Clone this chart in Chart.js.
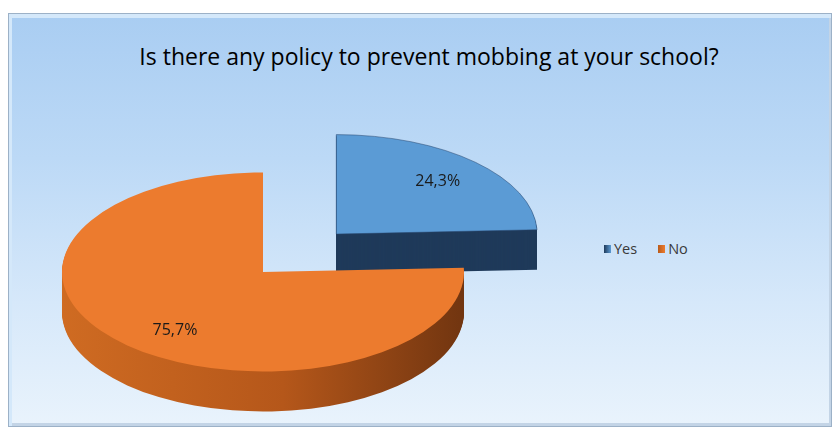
<!DOCTYPE html>
<html>
<head>
<meta charset="utf-8">
<script src="https://cdn.jsdelivr.net/npm/chart.js@4.4.1/dist/chart.umd.min.js"></script>
<style>
body { margin: 0; background: #fff; width: 834px; height: 432px; overflow: hidden; position: relative; font-family: 'Open Sans', sans-serif; }
#frame { position: absolute; left: 8px; top: 13px; width: 822px; height: 412px; border: 1px solid #9cb1c7;
  background: linear-gradient(#a9cdf2, #bcd9f6 35%, #d6e8fa 70%, #e9f3fc);
  box-shadow: inset 3px 4px 0 #d4e8fa, inset -2px -3px 0 #c3d4e6; }
#title { position: absolute; left: 12px; width: 834px; top: 40px; text-align: center; font-size: 23px; color: #000; }
#legend { position: absolute; left: 604px; top: 239px; font-size: 14.5px; color: #3a3a3a; display: flex; }
#legend span.item { display: flex; align-items: center; margin-right: 21px; }
#legend span.box { width: 7px; height: 8px; margin-right: 3px; display: inline-block; }
canvas { position: absolute; left: 0; top: 0; }
</style>
</head>
<body>
<div id="frame"></div>
<div id="title">Is there any policy to prevent mobbing at your school?</div>
<div id="legend"></div>
<canvas id="policy_pie" width="834" height="432"></canvas>
<script>
// data
const labels = ['Yes', 'No'];
const values = [24.3, 75.7];
const topColors = ['#5b9bd5', '#ec7b2e'];
const sideColors = ['#1f3a5a', '#b95b1b'];

const tilt = 0.495;  // ry / rx of the flattened pie
const depth = 40;    // thickness of the pie in px

function pct(v) {
    return v.toFixed(1).replace('.', ',') + '%';
}

const pie3d = {
    id: 'pie3d',
    beforeDatasetsDraw(chart) {
        const ctx = chart.ctx;
        const arcs = chart.getDatasetMeta(0).data;
        const shapes = arcs.map((arc, i) => {
            const p = arc.getProps(['x', 'y', 'startAngle', 'endAngle', 'outerRadius'], true);
            const mid = (p.startAngle + p.endAngle) / 2;
            const off = arc.options.offset || 0;
            return {
                i: i, r: p.outerRadius, mid: mid, a0: p.startAngle, a1: p.endAngle,
                cx: p.x + Math.cos(mid) * off,
                cy: p.y + Math.sin(mid) * off * tilt
            };
        });
        shapes.forEach(s => {
            const path = (dz) => {
                ctx.beginPath();
                ctx.moveTo(s.cx, s.cy + dz);
                ctx.ellipse(s.cx, s.cy + dz, s.r, s.r * tilt, 0, s.a0, s.a1);
                ctx.closePath();
            };
            // side
            let side = sideColors[s.i];
            if (s.i === 1) {
                side = ctx.createLinearGradient(s.cx - s.r, 0, s.cx + s.r, 0);
                side.addColorStop(0, '#cf6b22');
                side.addColorStop(0.55, '#b5571a');
                side.addColorStop(1, '#713510');
            }
            ctx.fillStyle = side;
            for (let dz = depth; dz > 0; dz--) {
                path(dz);
                ctx.fill();
            }
            // top
            path(0);
            ctx.fillStyle = topColors[s.i];
            ctx.fill();
            if (s.i === 0) {
                ctx.strokeStyle = 'rgba(40,70,110,0.5)';
                ctx.lineWidth = 1;
                ctx.stroke();
            }
        });
        // labels
        ctx.save();
        ctx.font = '16px "Open Sans"';
        ctx.fillStyle = '#1a1a1a';
        ctx.textAlign = 'center';
        ctx.textBaseline = 'middle';
        shapes.forEach(s => {
            const lr = s.r * 0.73;
            const a = s.mid - (s.i === 1 ? 0.12 : 0);
            ctx.fillText(pct(values[s.i]), s.cx + Math.cos(a) * lr, s.cy + Math.sin(a) * lr * tilt);
        });
        ctx.restore();
        return false;
    }
};

// legend
const legend = document.getElementById('legend');
labels.forEach((l, i) => {
    const item = document.createElement('span');
    item.className = 'item';
    const box = document.createElement('span');
    box.className = 'box';
    box.style.background = 'linear-gradient(90deg,' + sideColors[i] + ',' + topColors[i] + ')';
    item.appendChild(box);
    item.appendChild(document.createTextNode(l));
    legend.appendChild(item);
});

const ctx = document.getElementById('policy_pie');
const pieChart = new Chart(ctx, {
    type: 'pie',
    data: {
        labels: labels,
        datasets: [{
            data: values,
            backgroundColor: topColors,
            borderWidth: 0,
            offset: [106, 0]
        }]
    },
    options: {
        responsive: false,
        animation: false,
        radius: 201,
        layout: {
            padding: { top: 112, bottom: 0, left: 0, right: 308 }
        },
        plugins: {
            legend: { display: false },
            title: { display: false },
            tooltip: { enabled: false }
        }
    },
    plugins: [pie3d]
});
</script>
</body>
</html>
